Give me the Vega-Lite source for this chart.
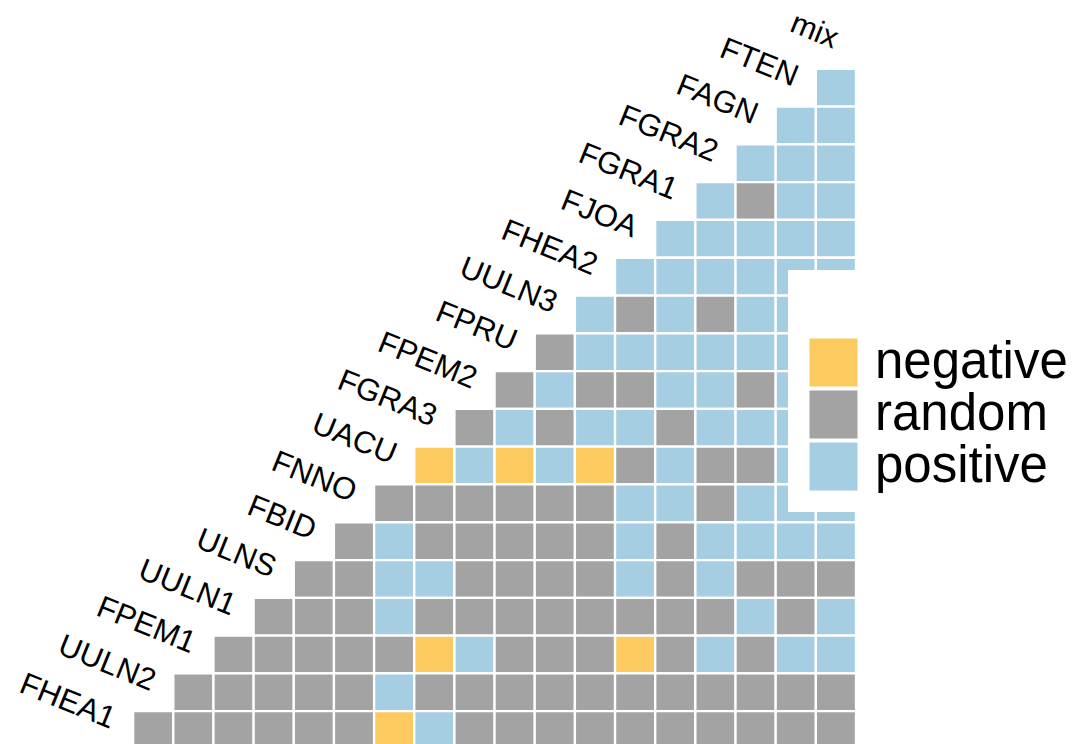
{
  "$schema": "https://vega.github.io/schema/vega-lite/v6.json",
  "width": 763,
  "height": 713,
  "autosize": {"type": "none"},
  "padding": {"left": 93, "top": 31, "right": 219, "bottom": 0},
  "background": "white",
  "config": {"view": {"stroke": null}},
  "datasets": {
    "cells": [
      {"row":"FTEN","col":"mix","type":"positive"},
      {"row":"FAGN","col":"FTEN","type":"positive"},{"row":"FAGN","col":"mix","type":"positive"},
      {"row":"FGRA2","col":"FAGN","type":"positive"},{"row":"FGRA2","col":"FTEN","type":"positive"},{"row":"FGRA2","col":"mix","type":"positive"},
      {"row":"FGRA1","col":"FGRA2","type":"positive"},{"row":"FGRA1","col":"FAGN","type":"random"},{"row":"FGRA1","col":"FTEN","type":"positive"},{"row":"FGRA1","col":"mix","type":"positive"},
      {"row":"FJOA","col":"FGRA1","type":"positive"},{"row":"FJOA","col":"FGRA2","type":"positive"},{"row":"FJOA","col":"FAGN","type":"positive"},{"row":"FJOA","col":"FTEN","type":"positive"},{"row":"FJOA","col":"mix","type":"positive"},
      {"row":"FHEA2","col":"FJOA","type":"positive"},{"row":"FHEA2","col":"FGRA1","type":"positive"},{"row":"FHEA2","col":"FGRA2","type":"positive"},{"row":"FHEA2","col":"FAGN","type":"positive"},{"row":"FHEA2","col":"FTEN","type":"positive"},{"row":"FHEA2","col":"mix","type":"positive"},
      {"row":"UULN3","col":"FHEA2","type":"positive"},{"row":"UULN3","col":"FJOA","type":"random"},{"row":"UULN3","col":"FGRA1","type":"positive"},{"row":"UULN3","col":"FGRA2","type":"random"},{"row":"UULN3","col":"FAGN","type":"positive"},{"row":"UULN3","col":"FTEN","type":"positive"},{"row":"UULN3","col":"mix","type":"positive"},
      {"row":"FPRU","col":"UULN3","type":"random"},{"row":"FPRU","col":"FHEA2","type":"positive"},{"row":"FPRU","col":"FJOA","type":"positive"},{"row":"FPRU","col":"FGRA1","type":"positive"},{"row":"FPRU","col":"FGRA2","type":"positive"},{"row":"FPRU","col":"FAGN","type":"positive"},{"row":"FPRU","col":"FTEN","type":"positive"},{"row":"FPRU","col":"mix","type":"positive"},
      {"row":"FPEM2","col":"FPRU","type":"random"},{"row":"FPEM2","col":"UULN3","type":"positive"},{"row":"FPEM2","col":"FHEA2","type":"random"},{"row":"FPEM2","col":"FJOA","type":"random"},{"row":"FPEM2","col":"FGRA1","type":"positive"},{"row":"FPEM2","col":"FGRA2","type":"positive"},{"row":"FPEM2","col":"FAGN","type":"random"},{"row":"FPEM2","col":"FTEN","type":"positive"},{"row":"FPEM2","col":"mix","type":"positive"},
      {"row":"FGRA3","col":"FPEM2","type":"random"},{"row":"FGRA3","col":"FPRU","type":"positive"},{"row":"FGRA3","col":"UULN3","type":"random"},{"row":"FGRA3","col":"FHEA2","type":"positive"},{"row":"FGRA3","col":"FJOA","type":"positive"},{"row":"FGRA3","col":"FGRA1","type":"random"},{"row":"FGRA3","col":"FGRA2","type":"positive"},{"row":"FGRA3","col":"FAGN","type":"positive"},{"row":"FGRA3","col":"FTEN","type":"positive"},{"row":"FGRA3","col":"mix","type":"positive"},
      {"row":"UACU","col":"FGRA3","type":"negative"},{"row":"UACU","col":"FPEM2","type":"positive"},{"row":"UACU","col":"FPRU","type":"negative"},{"row":"UACU","col":"UULN3","type":"positive"},{"row":"UACU","col":"FHEA2","type":"negative"},{"row":"UACU","col":"FJOA","type":"random"},{"row":"UACU","col":"FGRA1","type":"positive"},{"row":"UACU","col":"FGRA2","type":"random"},{"row":"UACU","col":"FAGN","type":"random"},{"row":"UACU","col":"FTEN","type":"positive"},{"row":"UACU","col":"mix","type":"positive"},
      {"row":"FNNO","col":"UACU","type":"random"},{"row":"FNNO","col":"FGRA3","type":"random"},{"row":"FNNO","col":"FPEM2","type":"random"},{"row":"FNNO","col":"FPRU","type":"random"},{"row":"FNNO","col":"UULN3","type":"random"},{"row":"FNNO","col":"FHEA2","type":"random"},{"row":"FNNO","col":"FJOA","type":"positive"},{"row":"FNNO","col":"FGRA1","type":"positive"},{"row":"FNNO","col":"FGRA2","type":"random"},{"row":"FNNO","col":"FAGN","type":"positive"},{"row":"FNNO","col":"FTEN","type":"positive"},{"row":"FNNO","col":"mix","type":"positive"},
      {"row":"FBID","col":"FNNO","type":"random"},{"row":"FBID","col":"UACU","type":"positive"},{"row":"FBID","col":"FGRA3","type":"random"},{"row":"FBID","col":"FPEM2","type":"random"},{"row":"FBID","col":"FPRU","type":"random"},{"row":"FBID","col":"UULN3","type":"random"},{"row":"FBID","col":"FHEA2","type":"random"},{"row":"FBID","col":"FJOA","type":"positive"},{"row":"FBID","col":"FGRA1","type":"random"},{"row":"FBID","col":"FGRA2","type":"positive"},{"row":"FBID","col":"FAGN","type":"positive"},{"row":"FBID","col":"FTEN","type":"positive"},{"row":"FBID","col":"mix","type":"positive"},
      {"row":"ULNS","col":"FBID","type":"random"},{"row":"ULNS","col":"FNNO","type":"random"},{"row":"ULNS","col":"UACU","type":"positive"},{"row":"ULNS","col":"FGRA3","type":"positive"},{"row":"ULNS","col":"FPEM2","type":"random"},{"row":"ULNS","col":"FPRU","type":"random"},{"row":"ULNS","col":"UULN3","type":"random"},{"row":"ULNS","col":"FHEA2","type":"random"},{"row":"ULNS","col":"FJOA","type":"positive"},{"row":"ULNS","col":"FGRA1","type":"random"},{"row":"ULNS","col":"FGRA2","type":"positive"},{"row":"ULNS","col":"FAGN","type":"random"},{"row":"ULNS","col":"FTEN","type":"random"},{"row":"ULNS","col":"mix","type":"random"},
      {"row":"UULN1","col":"ULNS","type":"random"},{"row":"UULN1","col":"FBID","type":"random"},{"row":"UULN1","col":"FNNO","type":"random"},{"row":"UULN1","col":"UACU","type":"positive"},{"row":"UULN1","col":"FGRA3","type":"random"},{"row":"UULN1","col":"FPEM2","type":"random"},{"row":"UULN1","col":"FPRU","type":"random"},{"row":"UULN1","col":"UULN3","type":"random"},{"row":"UULN1","col":"FHEA2","type":"random"},{"row":"UULN1","col":"FJOA","type":"random"},{"row":"UULN1","col":"FGRA1","type":"random"},{"row":"UULN1","col":"FGRA2","type":"random"},{"row":"UULN1","col":"FAGN","type":"positive"},{"row":"UULN1","col":"FTEN","type":"random"},{"row":"UULN1","col":"mix","type":"positive"},
      {"row":"FPEM1","col":"UULN1","type":"random"},{"row":"FPEM1","col":"ULNS","type":"random"},{"row":"FPEM1","col":"FBID","type":"random"},{"row":"FPEM1","col":"FNNO","type":"random"},{"row":"FPEM1","col":"UACU","type":"random"},{"row":"FPEM1","col":"FGRA3","type":"negative"},{"row":"FPEM1","col":"FPEM2","type":"positive"},{"row":"FPEM1","col":"FPRU","type":"random"},{"row":"FPEM1","col":"UULN3","type":"random"},{"row":"FPEM1","col":"FHEA2","type":"random"},{"row":"FPEM1","col":"FJOA","type":"negative"},{"row":"FPEM1","col":"FGRA1","type":"random"},{"row":"FPEM1","col":"FGRA2","type":"positive"},{"row":"FPEM1","col":"FAGN","type":"random"},{"row":"FPEM1","col":"FTEN","type":"positive"},{"row":"FPEM1","col":"mix","type":"positive"},
      {"row":"UULN2","col":"FPEM1","type":"random"},{"row":"UULN2","col":"UULN1","type":"random"},{"row":"UULN2","col":"ULNS","type":"random"},{"row":"UULN2","col":"FBID","type":"random"},{"row":"UULN2","col":"FNNO","type":"random"},{"row":"UULN2","col":"UACU","type":"positive"},{"row":"UULN2","col":"FGRA3","type":"random"},{"row":"UULN2","col":"FPEM2","type":"random"},{"row":"UULN2","col":"FPRU","type":"random"},{"row":"UULN2","col":"UULN3","type":"random"},{"row":"UULN2","col":"FHEA2","type":"random"},{"row":"UULN2","col":"FJOA","type":"random"},{"row":"UULN2","col":"FGRA1","type":"random"},{"row":"UULN2","col":"FGRA2","type":"random"},{"row":"UULN2","col":"FAGN","type":"random"},{"row":"UULN2","col":"FTEN","type":"random"},{"row":"UULN2","col":"mix","type":"random"},
      {"row":"FHEA1","col":"UULN2","type":"random"},{"row":"FHEA1","col":"FPEM1","type":"random"},{"row":"FHEA1","col":"UULN1","type":"random"},{"row":"FHEA1","col":"ULNS","type":"random"},{"row":"FHEA1","col":"FBID","type":"random"},{"row":"FHEA1","col":"FNNO","type":"random"},{"row":"FHEA1","col":"UACU","type":"negative"},{"row":"FHEA1","col":"FGRA3","type":"positive"},{"row":"FHEA1","col":"FPEM2","type":"random"},{"row":"FHEA1","col":"FPRU","type":"random"},{"row":"FHEA1","col":"UULN3","type":"random"},{"row":"FHEA1","col":"FHEA2","type":"random"},{"row":"FHEA1","col":"FJOA","type":"random"},{"row":"FHEA1","col":"FGRA1","type":"random"},{"row":"FHEA1","col":"FGRA2","type":"random"},{"row":"FHEA1","col":"FAGN","type":"random"},{"row":"FHEA1","col":"FTEN","type":"random"},{"row":"FHEA1","col":"mix","type":"random"}
    ],
    "labels": [
      {"row":"mix","col":"mix","label":"mix"},
      {"row":"FTEN","col":"FTEN","label":"FTEN"},
      {"row":"FAGN","col":"FAGN","label":"FAGN"},
      {"row":"FGRA2","col":"FGRA2","label":"FGRA2"},
      {"row":"FGRA1","col":"FGRA1","label":"FGRA1"},
      {"row":"FJOA","col":"FJOA","label":"FJOA"},
      {"row":"FHEA2","col":"FHEA2","label":"FHEA2"},
      {"row":"UULN3","col":"UULN3","label":"UULN3"},
      {"row":"FPRU","col":"FPRU","label":"FPRU"},
      {"row":"FPEM2","col":"FPEM2","label":"FPEM2"},
      {"row":"FGRA3","col":"FGRA3","label":"FGRA3"},
      {"row":"UACU","col":"UACU","label":"UACU"},
      {"row":"FNNO","col":"FNNO","label":"FNNO"},
      {"row":"FBID","col":"FBID","label":"FBID"},
      {"row":"ULNS","col":"ULNS","label":"ULNS"},
      {"row":"UULN1","col":"UULN1","label":"UULN1"},
      {"row":"FPEM1","col":"FPEM1","label":"FPEM1"},
      {"row":"UULN2","col":"UULN2","label":"UULN2"},
      {"row":"FHEA1","col":"FHEA1","label":"FHEA1"}
    ]
  },
  "layer": [
    {
      "data": {"name": "cells"},
      "mark": {"type": "rect", "stroke": "white", "strokeWidth": 2.3},
      "encoding": {
        "x": {"field": "col", "type": "nominal", "axis": null,
              "scale": {"domain": ["FHEA1","UULN2","FPEM1","UULN1","ULNS","FBID","FNNO","UACU","FGRA3","FPEM2","FPRU","UULN3","FHEA2","FJOA","FGRA1","FGRA2","FAGN","FTEN","mix"], "paddingInner": 0, "paddingOuter": 0}},
        "y": {"field": "row", "type": "nominal", "axis": null,
              "scale": {"domain": ["mix","FTEN","FAGN","FGRA2","FGRA1","FJOA","FHEA2","UULN3","FPRU","FPEM2","FGRA3","UACU","FNNO","FBID","ULNS","UULN1","FPEM1","UULN2","FHEA1"], "range": [0, 718], "paddingInner": 0, "paddingOuter": 0}},
        "color": {
          "field": "type", "type": "nominal",
          "scale": {"domain": ["negative","random","positive"], "range": ["#FDCA60","#A3A3A3","#A6CEE3"]},
          "legend": {
            "orient": "none", "legendX": 695, "legendY": 239,
            "title": " ", "titleFontSize": 39, "titlePadding": 8,
            "padding": 20, "fillColor": "white",
            "labelFontSize": 51, "labelFont": "Liberation Sans", "labelColor": "black",
            "labelLimit": 400, "labelOffset": 16,
            "symbolType": "square", "symbolSize": 2304, "symbolStrokeWidth": 0, "symbolOpacity": 1,
            "rowPadding": 0
          }
        }
      }
    },
    {
      "data": {"name": "labels"},
      "mark": {"type": "text", "align": "right", "baseline": "alphabetic", "angle": 22, "fontSize": 31, "font": "Liberation Sans", "color": "black", "dx": -3},
      "encoding": {
        "x": {"field": "col", "type": "nominal"},
        "y": {"field": "row", "type": "nominal"},
        "text": {"field": "label"}
      }
    }
  ]
}
